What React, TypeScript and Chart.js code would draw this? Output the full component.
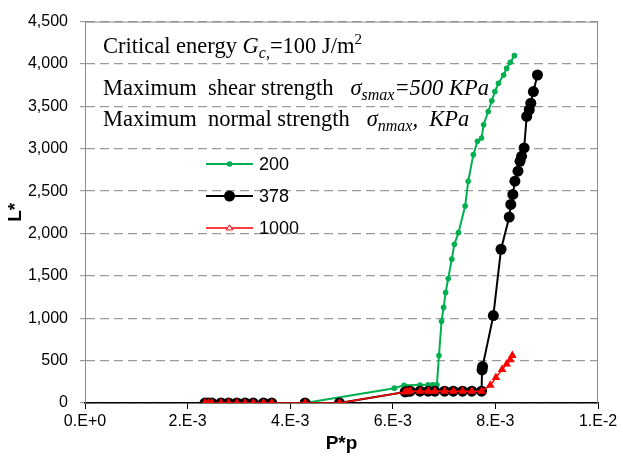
import React, { useEffect, useRef } from 'react';
import { Chart, registerables } from 'chart.js';

Chart.register(...registerables);

// ---- data ----
const seriesNames = ['200', '378', '1000'];

const greenX = [0.00234, 0.0024, 0.00247, 0.00265, 0.0028, 0.00296, 0.00312, 0.00328, 0.00348, 0.00364, 0.00429,
  0.00603, 0.00622, 0.00653, 0.00669, 0.00678, 0.00686,
  0.0069, 0.00695, 0.00699, 0.00703, 0.00708, 0.00715, 0.0072, 0.00728, 0.00741, 0.00747, 0.00757, 0.00765,
  0.00773, 0.00777, 0.00786, 0.00793, 0.00799, 0.00806, 0.00816, 0.00822, 0.00829, 0.00837];
const greenY = [0, 0, 0, 0, 0, 0, 0, 0, 0, 0, 0,
  175, 210, 212, 214, 215, 216,
  560, 964, 1128, 1304, 1469, 1697, 1873, 2010, 2323, 2617, 2930, 3087,
  3126, 3283, 3439, 3565, 3675, 3772, 3870, 3948, 4019, 4098];

const blackX = [0.00234, 0.0024, 0.00247, 0.00265, 0.0028, 0.00296, 0.00312, 0.00328, 0.00348, 0.00364, 0.00429, 0.00496,
  0.00624, 0.00629, 0.00634, 0.00653, 0.00669, 0.00682, 0.00701, 0.00718, 0.00736, 0.00754, 0.00773,
  0.00774, 0.00775, 0.00796, 0.00811, 0.00827, 0.0083, 0.00834, 0.00838, 0.00844, 0.00848, 0.00851, 0.00856,
  0.00861, 0.00866, 0.00869, 0.00874, 0.00882];
const blackY = [0, 0, 0, 0, 0, 0, 0, 0, 0, 0, 0, 0,
  130, 138, 140, 140, 140, 140, 140, 140, 140, 140, 140,
  390, 430, 1031, 1814, 2194, 2343, 2461, 2617, 2735, 2852, 2911, 3009,
  3381, 3460, 3537, 3675, 3870];

const redX = [0.00234, 0.0024, 0.00247, 0.00265, 0.0028, 0.00296, 0.00312, 0.00328, 0.00348, 0.00364, 0.00429, 0.00496,
  0.00624, 0.00629, 0.00634, 0.00653, 0.00669, 0.00682, 0.00701, 0.00718, 0.00736, 0.00754, 0.00773,
  0.0079, 0.00801, 0.00813, 0.00822, 0.00829, 0.00833];
const redY = [0, 0, 0, 0, 0, 0, 0, 0, 0, 0, 0, 0,
  130, 138, 140, 140, 140, 140, 140, 140, 140, 140, 140,
  208, 300, 395, 460, 510, 560];

const xTickLabels = ['0.E+0', '2.E-3', '4.E-3', '6.E-3', '8.E-3', '1.E-2'];
const yTickLabels = ['0', '500', '1,000', '1,500', '2,000', '2,500', '3,000', '3,500', '4,000', '4,500'];

const xTitle = 'P*p';
const yTitle = 'L*';

type Seg = { t: string; k: 'n' | 'i' | 'sub' | 'sup' };
const annotationLines: Seg[][] = [
  [{ t: 'Critical energy ', k: 'n' }, { t: 'G', k: 'i' }, { t: 'c,', k: 'sub' }, { t: '=100 J/m', k: 'n' }, { t: '2', k: 'sup' }],
  [{ t: 'Maximum  shear strength   ', k: 'n' }, { t: 'σ', k: 'i' }, { t: 'smax', k: 'sub' }, { t: '=500 KPa', k: 'i' }],
  [{ t: 'Maximum  normal strength   ', k: 'n' }, { t: 'σ', k: 'i' }, { t: 'nmax', k: 'sub' }, { t: ',  KPa', k: 'i' }],
];

const SANS = '"Liberation Sans", Arial, sans-serif';
const SERIF = '"Liberation Serif", "Times New Roman", serif';

const frameGray = '#8c8c8c';

const framePlugin = {
  id: 'frame',
  beforeDatasetsDraw(chart: any) {
    const { ctx, chartArea: a } = chart;
    ctx.save();
    ctx.strokeStyle = frameGray;
    ctx.lineWidth = 1;
    ctx.setLineDash([]);
    ctx.beginPath();
    ctx.moveTo(a.left + 0.5, a.bottom);
    ctx.lineTo(a.left + 0.5, a.top + 0.5);
    ctx.lineTo(a.right - 0.5, a.top + 0.5);
    ctx.lineTo(a.right - 0.5, a.bottom);
    ctx.stroke();

    // annotation text
    const base = 22.5;
    const lineYs = [53, 95, 126];
    annotationLines.forEach((segs, li) => {
      let x = a.left + 18;
      const y = lineYs[li];
      ctx.fillStyle = '#000';
      ctx.textBaseline = 'alphabetic';
      ctx.textAlign = 'left';
      segs.forEach((s) => {
        let font = `${base}px ${SERIF}`;
        let dy = 0;
        if (s.k === 'i') font = `italic ${base}px ${SERIF}`;
        if (s.k === 'sub') { font = `italic ${Math.round(base * 0.72)}px ${SERIF}`; dy = 5; }
        if (s.k === 'sup') { font = `${Math.round(base * 0.66)}px ${SERIF}`; dy = -9; }
        ctx.font = font;
        ctx.fillText(s.t, x, y + dy);
        x += ctx.measureText(s.t).width;
      });
    });
    ctx.restore();
  },
};

const legendPlugin = {
  id: 'customLegend',
  afterDraw(chart: any) {
    const { ctx } = chart;
    const rows = [164, 196, 228];
    ctx.save();
    chart.data.datasets.forEach((ds: any, i: number) => {
      const y = rows[i];
      ctx.strokeStyle = ds.borderColor;
      ctx.lineWidth = ds.borderWidth;
      ctx.beginPath();
      ctx.moveTo(206, y);
      ctx.lineTo(253, y);
      ctx.stroke();
      const cx = 229.5;
      ctx.fillStyle = ds.pointBackgroundColor;
      ctx.strokeStyle = ds.pointBorderColor;
      ctx.lineWidth = 1;
      if (ds.pointStyle === 'triangle') {
        const r = 3.2;
        ctx.beginPath();
        ctx.moveTo(cx, y - r);
        ctx.lineTo(cx + r, y + r * 0.6);
        ctx.lineTo(cx - r, y + r * 0.6);
        ctx.closePath();
        ctx.fillStyle = '#ffffff';
        ctx.fill();
        ctx.stroke();
      } else {
        ctx.beginPath();
        ctx.arc(cx, y, ds.pointRadius, 0, Math.PI * 2);
        ctx.fill();
      }
      ctx.fillStyle = '#000';
      ctx.font = `18px ${SANS}`;
      ctx.textBaseline = 'middle';
      ctx.textAlign = 'left';
      ctx.fillText(ds.label, 259, y + 1);
    });
    ctx.restore();
  },
};

function toPoints(xs: number[], ys: number[]) {
  return xs.map((x, i) => ({ x, y: ys[i] }));
}

export default function App() {
  const ref = useRef<HTMLCanvasElement | null>(null);
  useEffect(() => {
    if (!ref.current) return;
    const chart = new Chart(ref.current, {
      type: 'scatter',
      data: {
        datasets: [
          {
            label: seriesNames[0],
            data: toPoints(greenX, greenY),
            order: 3,
            showLine: true,
            borderColor: '#00b050',
            backgroundColor: '#00b050',
            pointBackgroundColor: '#00b050',
            pointBorderColor: '#00b050',
            borderWidth: 2,
            pointRadius: 2.8,
            pointBorderWidth: 0,
            pointStyle: 'circle',
          } as any,
          {
            label: seriesNames[1],
            data: toPoints(blackX, blackY),
            order: 2,
            showLine: true,
            borderColor: '#000000',
            backgroundColor: '#000000',
            pointBackgroundColor: '#000000',
            pointBorderColor: '#000000',
            borderWidth: 2,
            pointRadius: 5.5,
            pointBorderWidth: 0,
            pointStyle: 'circle',
          } as any,
          {
            label: seriesNames[2],
            data: toPoints(redX, redY),
            order: 1,
            showLine: true,
            borderColor: '#ff0000',
            backgroundColor: '#ff0000',
            pointBackgroundColor: '#ff0000',
            pointBorderColor: '#ff0000',
            borderWidth: 1.5,
            pointRadius: 5,
            pointBorderWidth: 0,
            pointStyle: 'triangle',
          } as any,
        ],
      },
      options: {
        animation: false,
        responsive: false,
        maintainAspectRatio: false,
        layout: { padding: { left: 0, right: 25, top: 20, bottom: 0 } },
        plugins: { legend: { display: false }, tooltip: { enabled: false } },
        scales: {
          x: {
            type: 'linear',
            min: 0,
            max: 0.01,
            afterFit: (s: any) => { s.height = 70; },
            afterBuildTicks: (s: any) => {
              s.ticks = xTickLabels.map((_, i) => ({ value: i * 0.002 }));
            },
            ticks: {
              callback: (_v: any, i: number) => xTickLabels[i],
              color: '#000',
              font: { family: SANS, size: 16 },
              padding: 3,
              maxRotation: 0,
              autoSkip: false,
            },
            grid: { drawOnChartArea: false, drawTicks: true, tickLength: 6, color: '#000', lineWidth: 1 },
            border: { display: true, color: '#000', width: 1.5 },
            title: { display: true, text: xTitle, color: '#000', font: { family: SANS, size: 19, weight: 'bold' }, padding: { top: 2, bottom: 18 } },
          },
          y: {
            type: 'linear',
            min: 0,
            max: 4500,
            afterFit: (s: any) => { s.width = 85; },
            afterBuildTicks: (s: any) => {
              s.ticks = yTickLabels.map((_, i) => ({ value: i * 500 }));
            },
            ticks: {
              callback: (_v: any, i: number) => yTickLabels[i],
              color: '#000',
              font: { family: SANS, size: 16 },
              padding: 12,
              autoSkip: false,
            },
            grid: {
              color: '#9a9a9a',
              lineWidth: 1.3,
              tickLength: 5,
              tickColor: frameGray,
              tickBorderDash: [],
              tickWidth: 1,
            } as any,
            border: { display: true, color: frameGray, width: 1, dash: [9, 5] } as any,
            title: { display: true, text: yTitle, color: '#000', font: { family: SANS, size: 19, weight: 'bold' }, padding: { top: 4, bottom: 4 } },
          },
        },
      } as any,
      plugins: [framePlugin, legendPlugin],
    });
    return () => chart.destroy();
  }, []);
  return (
    <div style={{ position: 'absolute', left: 0, top: 0, width: 623, height: 473, background: '#fff' }}>
      <canvas ref={ref} width={623} height={473} style={{ width: 623, height: 473 }} />
    </div>
  );
}
